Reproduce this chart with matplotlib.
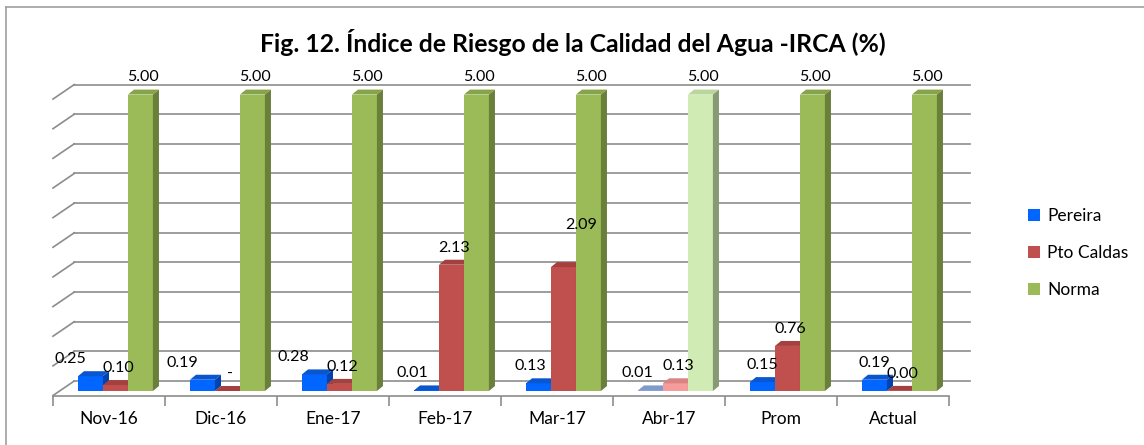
import matplotlib
matplotlib.use("Agg")
import matplotlib.pyplot as plt
from matplotlib.patches import Polygon, Patch
from matplotlib.lines import Line2D
import numpy as np

plt.rcParams['font.family'] = ['Lato', 'DejaVu Sans']

# datos
meses = ["Nov-16", "Dic-16", "Ene-17", "Feb-17", "Mar-17", "Abr-17", "Prom", "Actual"]
pereira = [0.25, 0.19, 0.28, 0.01, 0.13, 0.01, 0.15, 0.19]
pto_caldas = [0.10, 0.0, 0.12, 2.13, 2.09, 0.13, 0.76, 0.002]
norma = [5.0, 5.0, 5.0, 5.0, 5.0, 5.0, 5.0, 5.0]
series_names = ["Pereira", "Pto Caldas", "Norma"]
gridvals = np.arange(0, 5.01, 0.5)

# colores: frente, tapa, lado (normal / resaltado Abr-17)
colores = {
    "Pereira": ("#0066FF", "#0A55D0", "#0043B0"),
    "Pto Caldas": ("#C0504D", "#A4403E", "#8A3533"),
    "Norma": ("#9BBB59", "#86A44A", "#6A7F3A"),
}
colores_claros = {
    "Pereira": ("#8EAADB", "#7F9BCD", "#6F88B8"),
    "Pto Caldas": ("#F59C9C", "#D98382", "#C06F6E"),
    "Norma": ("#D0EBB3", "#BAD69C", "#879A73"),
}
resaltado = 5  # Abr-17

fig = plt.figure(figsize=(11.44, 4.45), dpi=100)
ax = fig.add_axes([53 / 1144, (445 - 395.5) / 445, 896 / 1144, (395.5 - 75) / 445])
ax.set_xlim(-0.5, 7.5)
ax.set_ylim(-0.076, 5.33)

gris = "#8C8C8C"
wx, wy = 0.19, 0.169   # fondo de la pared
dx, dy = 0.054, 0.084  # profundidad de barra
w = 0.223
x = np.arange(len(meses))

# pared del fondo + lineas de division
for g in gridvals:
    ax.plot([-0.5 + wx, 7.5 + wx], [g + wy, g + wy], color=gris, lw=1.2,
            clip_on=False, zorder=1)
    ax.plot([-0.5, -0.5 + wx], [g - 0.076, g + wy], color=gris, lw=1.2,
            clip_on=False, zorder=1)

datos = [pereira, pto_caldas, norma]
for k, (nombre, vals) in enumerate(zip(series_names, datos)):
    x0 = x - 0.277 + k * w
    frente = [colores_claros[nombre][0] if i == resaltado else colores[nombre][0]
              for i in range(len(vals))]
    ax.bar(x0, vals, width=w, align="edge", color=frente,
           edgecolor="none", zorder=3 + k, label=nombre)
    for i, (xb, h) in enumerate(zip(x0, vals)):
        c = colores_claros[nombre] if i == resaltado else colores[nombre]
        tapa = Polygon([(xb, h), (xb + w, h), (xb + w + dx, h + dy), (xb + dx, h + dy)],
                       closed=True, facecolor=c[1], edgecolor="none", zorder=3 + k)
        lado = Polygon([(xb + w, 0), (xb + w + dx, dy), (xb + w + dx, h + dy), (xb + w, h)],
                       closed=True, facecolor=c[2], edgecolor="none", zorder=3 + k)
        ax.add_patch(tapa)
        ax.add_patch(lado)

# etiquetas de datos (desplazamientos en px como en el original)
desplaz_pereira = [-23, -23, -24, -17, -11, -16, -3, -3]
ajustes = {(1, 4): (0.13, 0.42)}
for k, vals in enumerate(datos):
    x0 = x - 0.277 + k * w
    for i, (xb, h) in enumerate(zip(x0, vals)):
        txt = "-" if h == 0 else f"{h:.2f}"
        xs = xb + w / 2 + dx / 2
        if k == 0:
            xs += desplaz_pereira[i] / 112
        ex, ey = ajustes.get((k, i), (0, 0))
        ax.text(xs + ex, h + 0.29 + ey, txt, ha="center", va="center",
                fontsize=11.5, color="black", zorder=10, clip_on=False)

# ejes
for s in ["top", "right", "left"]:
    ax.spines[s].set_visible(False)
ax.spines["bottom"].set_color(gris)
ax.spines["bottom"].set_linewidth(1.2)
ax.set_yticks([])
ax.set_xticks(np.arange(-0.5, 7.6, 1))
ax.set_xticklabels([])
ax.tick_params(axis="x", which="major", length=7, width=1.2, color=gris, direction="out")
ax.set_xticks(x, minor=True)
ax.set_xticklabels(meses, minor=True, fontsize=12.5)
ax.tick_params(axis="x", which="minor", length=0, pad=11)
ax.patch.set_visible(False)

# leyenda
handles = [Patch(facecolor=colores[n][0], edgecolor="none") for n in series_names]
fig.legend(handles, series_names, loc="upper left", bbox_to_anchor=(1028 / 1144, 1 - 208 / 445),
           frameon=False, fontsize=12.5, handlelength=0.7, handleheight=0.7,
           handletextpad=0.4, labelspacing=1.2, borderpad=0, borderaxespad=0)

fig.text(573 / 1144, 1 - 42 / 445, "Fig. 12. Índice de Riesgo de la Calidad del Agua -IRCA (%)",
         ha="center", va="center", fontsize=17.8, fontweight="bold")

# marco
fig.add_artist(Line2D([5.5 / 1144, 5.5 / 1144], [0, 1 - 7 / 445], transform=fig.transFigure,
                      color="#A0A0A0", lw=1.2))
fig.add_artist(Line2D([5.5 / 1144, 1], [1 - 7 / 445, 1 - 7 / 445], transform=fig.transFigure,
                      color="#A0A0A0", lw=1.2))

fig.savefig("out.png", dpi=100, facecolor="white")
